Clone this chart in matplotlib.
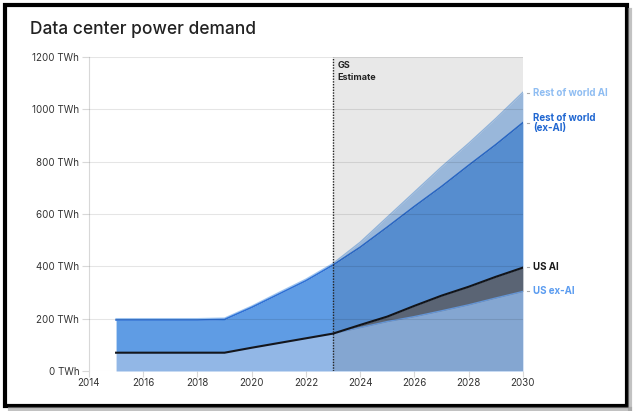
import numpy as np
import matplotlib
matplotlib.use("Agg")
import matplotlib.pyplot as plt
from matplotlib.patches import Rectangle
from matplotlib.lines import Line2D

# === DATA (TWh) ===
years = [2015, 2016, 2017, 2018, 2019, 2020, 2021, 2022,
         2023, 2024, 2025, 2026, 2027, 2028, 2029, 2030]
us_ex_ai = [70, 70, 70, 70, 70, 89, 107, 125, 143, 166, 189, 208, 230, 253, 279, 304]
us_ai = [0, 0, 0, 0, 0, 0, 0, 0, 0, 10, 19, 41, 58, 69, 81, 91]
row_ex_ai = [125, 125, 125, 125, 127, 154, 187, 220, 262, 297, 342, 380, 417, 464, 505, 554]
row_ai = [5, 5, 5, 5, 5, 5, 6, 6, 6, 19, 38, 55, 75, 84, 100, 116]

y_ticks = [0, 200, 400, 600, 800, 1000, 1200]
x_ticks = [2014, 2016, 2018, 2020, 2022, 2024, 2026, 2028, 2030]
estimate_start = 2023

plt.rcParams['font.family'] = ['Inter', 'DejaVu Sans']

# === CUMULATIVE LEVELS ===
x = np.array(years)
lvl1 = np.array(us_ex_ai)
lvl2 = lvl1 + np.array(us_ai)
lvl3 = lvl2 + np.array(row_ex_ai)
lvl4 = lvl3 + np.array(row_ai)

fig = plt.figure(figsize=(6.4, 4.11), dpi=100)
ax = fig.add_axes([0.139, 0.0973, 0.678, 0.764])

# === STACKED AREAS ===
ax.fill_between(x, 0, lvl1, color='#92b7e6', lw=0, zorder=2)
ax.fill_between(x, lvl1, lvl2, color='#636f80', lw=0, zorder=2)
ax.fill_between(x, lvl2, lvl3, color='#5f9ce4', lw=0, zorder=2)
ax.fill_between(x, lvl3, lvl4, color='#a9caf0', lw=0, zorder=2)

ax.plot(x, lvl4, color='#9fc5f0', lw=1.0, zorder=3)
ax.plot(x, lvl3, color='#2f72d6', lw=1.2, zorder=3)
ax.plot(x, lvl1, color='#6ea4ec', lw=1.0, zorder=3)
ax.plot(x, lvl2, color='#14161c', lw=1.5, zorder=3)

# === GS ESTIMATE SHADING ===
ax.axvspan(estimate_start, 2030, color='black', alpha=0.09, lw=0, zorder=4)
ax.axvline(estimate_start, color='#222222', lw=1.0, ls=(0, (1, 1)), zorder=5)
ax.text(estimate_start + 0.17, 1185, "GS\nEstimate", fontsize=6.5, fontweight='bold',
        color='#222222', va='top', ha='left', linespacing=1.5, zorder=6)

# === GRID / AXES ===
for yv in y_ticks:
    ax.axhline(yv, color='black', alpha=0.1, lw=0.8, zorder=4.5)
ax.set_xlim(2014, 2030)
ax.set_ylim(0, 1200)
ax.set_yticks(y_ticks)
ax.set_yticklabels([f"{v} TWh" for v in y_ticks])
ax.set_xticks(x_ticks)
ax.set_xticklabels([str(v) for v in x_ticks])
for s in ['top', 'right', 'bottom']:
    ax.spines[s].set_visible(False)
ax.spines['left'].set_color('#d8d8d8')
ax.tick_params(axis='y', length=5, color='#d8d8d8', labelsize=7, labelcolor='#333333', pad=2)
ax.tick_params(axis='x', length=4, color='#d8d8d8', labelsize=7, labelcolor='#333333', pad=1)

# === RIGHT SIDE LABELS ===
labels = [
    (1064, "Rest of world AI", '#8fbdf2'),
    (947, "Rest of world\n(ex-AI)", '#1f66d1'),
    (397, "US AI", '#1a1a1a'),
    (306, "US ex-AI", '#5b9cf0'),
]
for yv, txt, col in labels:
    ax.plot([2030.15, 2030.24], [yv, yv], color='#aaaaaa', lw=0.8, clip_on=False)
    ax.text(2030.37, yv, txt, fontsize=7, fontweight='bold', color=col,
            va='center', ha='left', linespacing=0.95, clip_on=False)

# === TITLE ===
fig.text(0.047, 0.928, "Data center power demand", fontsize=12.5, fontweight='medium',
         color='#222222', va='center', ha='left')

# === FRAME WITH SHADOW (right and bottom only) ===
fig.add_artist(Line2D([0.984, 0.984], [0.005, 0.975], transform=fig.transFigure,
                      color='#9a9a9a', lw=3, alpha=0.6))
fig.add_artist(Line2D([0.015, 0.984], [0.005, 0.005], transform=fig.transFigure,
                      color='#9a9a9a', lw=3, alpha=0.6))
fig.patches.append(Rectangle((0.0075, 0.013), 0.972, 0.975, transform=fig.transFigure,
                             fill=False, ec='black', lw=3))

fig.savefig("out.png", dpi=100)
